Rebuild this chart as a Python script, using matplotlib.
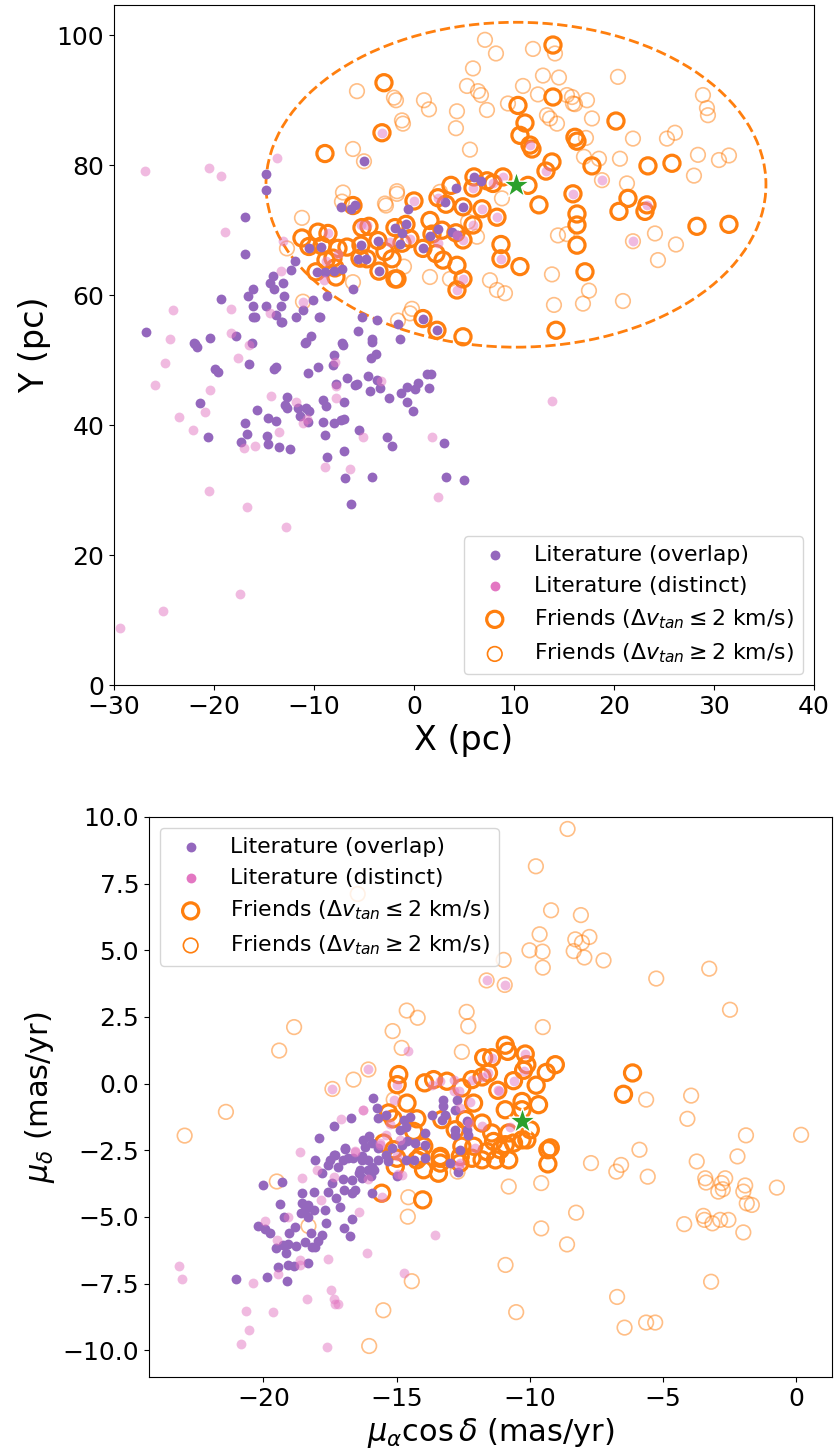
import matplotlib
matplotlib.use("Agg")
import matplotlib.pyplot as plt
from matplotlib.patches import Ellipse

# ---------------- top panel: X / Y positions (pc) ----------------
lit_overlap_x = [-14.8, -14.8, -16.9, -16.9, -11.9, -12.3, -14.1, -14.4, -13.1, -14.0, -16.1, -16.6, -13.0,
                 -19.3, -16.1, -14.8, -13.3, -10.1, -8.7, -11.1, -11.8, -9.4, -16.1, -13.8, -13.3, -26.8,
                 -20.4, -17.8, -22.0, -16.2, -10.3, -10.8, -7.3, -6.3, -5.9, -10.5, -9.3, -9.7, -8.9, -8.0,
                 -7.2, -6.1, -5.3, -5.6, -4.8, -3.6, -3.5, -1.9, -1.2, -1.4, -5.2, -3.7, -5.6, -4.2, -1.6,
                 -9.5, -13.2, -15.9, -5.0, 6.0, 6.7, 4.2, 3.1, 4.9, -0.6, -0.8, 1.6, 2.4, 0.9, 3.8, 4.3,
                 0.9, 2.3, -1.4, -7.2, -21.9, -21.7, -19.9, -19.6, -16.5, -21.4, -20.6, -14.0, -13.8,
                 -10.9, -10.6, -9.6, -8.0, -8.1, -7.1, -4.2, -4.3, -3.8, -15.7, -14.6, -13.8, -16.9,
                 -16.7, -17.3, -14.7, -14.6, -13.5, -12.4, -12.7, -12.9, -12.7, -11.6, -10.8, -10.5,
                 -11.4, -10.6, -9.1, -8.8, -9.1, -8.9, -8.7, -8.0, -7.3, -7.0, -7.0, -7.8, -6.7, -5.9,
                 -5.7, -7.0, -6.9, -6.3, -5.5, -4.6, -4.4, -3.7, -3.4, -2.5, -4.2, -2.7, -2.2, -1.3,
                 -0.7, -0.7, -0.1, 0.1, 0.4, 1.3, 1.7, 1.5, 3.0, 3.2, 5.0]
lit_overlap_y = [78.6, 76.2, 72.1, 66.4, 65.3, 63.8, 63.0, 61.9, 61.8, 60.9, 61.0, 59.9, 59.9,
                 59.4, 58.4, 58.4, 58.3, 59.3, 59.8, 57.7, 56.6, 56.6, 56.6, 57.0, 55.8, 54.3,
                 53.4, 53.7, 52.6, 52.6, 53.7, 52.8, 73.6, 73.3, 73.9, 67.3, 67.4, 63.6, 63.5, 63.7,
                 64.1, 60.9, 67.7, 65.6, 65.6, 68.4, 63.7, 70.4, 69.5, 67.9, 56.7, 56.2, 54.5, 53.2, 55.6,
                 56.7, 55.9, 56.7, 80.6, 78.2, 77.5, 76.5, 74.4, 73.6, 73.2, 70.9, 69.1, 70.2, 67.2, 69.7, 69.3,
                 56.4, 54.6, 53.3, 52.6, 52.5, 52.0, 48.7, 48.2, 49.4, 43.4, 38.2, 48.6, 48.9,
                 52.6, 48.1, 49.0, 50.8, 49.2, 52.4, 52.8, 50.3, 50.9, 42.3, 41.1, 40.6, 40.3,
                 38.6, 37.4, 38.3, 37.1, 36.7, 36.4, 44.4, 43.1, 42.6, 42.6, 42.6, 42.2,
                 41.4, 40.5, 43.9, 42.9, 40.5, 38.5, 35.1, 40.3, 40.8, 41.0, 43.5, 46.3, 47.2, 46.2,
                 46.4, 36.0, 31.9, 27.8, 39.2, 47.5, 45.3, 47.0, 45.7, 44.2, 32.0, 38.2, 36.8, 44.9,
                 45.9, 43.6, 42.2, 45.6, 46.5, 47.8, 47.8, 45.7, 37.2, 32.0, 31.5]

lit_distinct_x = [-26.9, -20.5, -19.3, -13.7, -18.9, -13.1, -13.3, -18.3, -11.1, -14.4, -24.1, -24.4,
                  -18.3, -16.5, -8.6, -7.6, -8.8, -9.0, -5.3, -4.7, -2.4, -3.2, 11.6, 13.2, 8.9, 7.9,
                  5.9, 2.4, 6.8, 8.3, 5.9, 0.0, -0.4, 2.4, 4.3, 4.9, 4.9, 4.3, 8.7, 15.9, 18.8, 23.3,
                  21.9, -24.9, -25.9, -17.6, -20.4, -20.9, -23.5, -22.1, -20.5, -16.7, -12.8, -17.4,
                  -25.1, -29.4, -14.3, -17.0, -15.9, -13.5, -11.8, -11.1, -10.7, -8.9, -7.9, -7.8,
                  -7.8, -6.4, -5.1, -3.3, 1.8, 2.4, 13.8]
lit_distinct_y = [79.1, 79.6, 78.3, 81.1, 69.8, 68.4, 63.7, 57.9, 59.0, 57.2, 57.7, 53.2,
                  54.2, 52.3, 69.6, 66.4, 65.3, 62.3, 70.8, 70.8, 68.2, 85.0, 83.1, 79.1, 78.2, 77.2,
                  76.5, 75.0, 73.3, 72.0, 70.8, 74.5, 68.7, 68.0, 69.3, 68.5, 62.5, 60.8, 65.6, 75.6, 77.7, 73.9,
                  68.3, 49.5, 46.2, 50.3, 45.4, 42.0, 41.2, 39.2, 29.8, 27.4, 24.4, 14.0,
                  11.4, 8.8, 44.5, 36.5, 36.8, 38.9, 43.6, 40.4, 41.0, 33.5, 49.7, 46.1,
                  44.1, 33.3, 38.1, 46.8, 38.1, 28.9, 43.7]

friends_close_x = [-8.9, -6.1, -11.2, -9.6, -8.6, -10.5, -9.2, -7.6, -6.7, -8.8, -8.1, -9.8, -7.8, -7.9,
                   -5.2, -4.5, -5.3, -5.4, -4.7, -3.6, -3.5, -1.7, -2.2, -2.9, -1.9, -1.2, -0.8, 0.0,
                   -0.4, 1.6, 1.8, 2.8, 0.9, 2.2, 2.9, 4.3, 4.9, 4.2, 4.9, 4.3, -1.9, -3.0, -3.2, 13.9,
                   13.9, 10.4, 11.1, 10.6, 11.6, 11.8, 16.1, 16.3, 13.8, 13.2, 12.5, 11.4, 8.9, 7.9,
                   6.0, 7.3, 5.9, 3.7, 2.4, 3.2, 4.9, 6.8, 8.3, 5.9, 8.7, 8.7, 10.6, 14.2, 15.9, 16.3,
                   16.3, 16.3, 4.9, 0.9, 2.3, 20.2, 17.8, 23.4, 25.8, 21.4, 20.5, 23.3, 23.1, 28.3,
                   31.5, 17.1]
friends_close_y = [81.8, 73.8, 68.8, 69.7, 69.5, 67.5, 67.6, 67.2, 67.4, 65.4, 65.7, 63.6, 62.8, 64.2,
                   70.4, 70.6, 67.7, 65.7, 65.6, 68.4, 63.7, 62.5, 65.6, 66.7, 70.4, 68.0, 70.9, 74.5,
                   68.7, 71.5, 69.4, 70.0, 67.2, 66.4, 65.4, 64.6, 68.5, 69.6, 62.5, 60.8, 62.5, 92.7, 85.0, 90.5,
                   98.5, 89.2, 86.5, 84.6, 83.1, 82.5, 84.3, 83.7, 80.5, 79.1, 73.9, 76.9, 78.2, 77.2,
                   78.2, 77.6, 76.5, 76.9, 75.0, 74.0, 73.6, 73.3, 72.0, 70.8, 67.8, 65.6, 64.4, 54.6, 75.6, 72.5,
                   70.8, 67.7, 53.6, 56.4, 54.6, 86.8, 79.9, 79.9, 80.3, 74.9, 72.9, 73.9, 72.9, 70.6,
                   70.9, 63.6]

friends_far_x = [-12.7, -11.2, -7.2, -2.9, -1.7, -6.1, -1.6, 7.1, 8.2, 5.9, 5.3, 6.4, 6.7, 9.4, 7.3, 4.3,
                 4.2, 5.6, -5.7, -2.0, -1.8, 1.0, 1.5, -1.2, -1.1, -6.1, -5.0, 11.9, 12.9, 14.5, 10.9,
                 12.4, 15.3, 15.9, 13.3, 13.6, 14.3, 14.1, 2.6, -1.7, -2.8, -7.1, 1.6, 3.6, -1.0, 7.6,
                 8.3, 9.1, 13.8, 14.0, 14.4, 15.3, 16.9, -0.4, 8.8, 6.3, 5.4, -0.2, 20.4, 28.9, 29.3,
                 29.4, 15.8, 16.1, 17.3, 17.8, 17.2, 21.9, 25.3, 26.1, 28.4, 30.5, 31.5, 17.0, 18.5,
                 20.6, 28.0, 18.8, 21.3, 24.1, 26.2, 21.9, 24.4, 17.5, 20.9, -11.1]
friends_far_y = [67.2, 71.9, 74.4, 74.1, 75.6, 62.0, 56.1, 99.3, 97.2, 94.9, 92.2, 91.4, 90.8, 89.5, 88.5, 88.3,
                 85.7, 82.4, 91.4, 90.4, 90.0, 90.0, 88.6, 86.9, 86.4, 82.5, 80.6, 97.9, 93.8, 93.5, 92.2,
                 90.9, 90.8, 89.5, 87.7, 87.2, 86.4, 97.2, 75.9, 76.0, 73.8, 75.8, 62.8, 62.5, 64.4, 62.3,
                 60.8, 60.3, 63.2, 58.5, 69.2, 69.4, 58.7, 57.2, 74.9, 69.0, 71.3, 57.9, 93.6, 90.8, 88.8,
                 87.7, 90.5, 89.4, 90.0, 87.2, 84.2, 84.1, 84.1, 85.0, 81.6, 80.8, 81.5, 81.3, 81.0,
                 81.0, 78.4, 77.7, 77.2, 69.5, 67.8, 68.3, 65.4, 60.7, 59.1, 59.0]

target_xy = (10.2, 77.0)
search_radius = 25.0

# ---------------- bottom panel: proper motions (mas/yr) ----------------
lit_overlap_pmra = [-21.04, -19.88, -19.13, -19.46, -19.06, -18.87, -18.34, -20.19, -19.94, -19.75, -19.53,
                    -19.25, -19.09, -19.16, -18.79, -18.44, -18.19, -18.06, -17.96, -17.81, -19.03, -18.81,
                    -18.21, -19.37, -19.22, -20.00, -19.31, -18.54, -18.56, -18.31, -18.44, -18.12, -18.59,
                    -18.31, -18.09, -17.69, -17.67, -17.56, -17.29, -17.13, -16.96, -16.75, -16.66, -18.06,
                    -17.81, -17.56, -17.50, -17.31, -17.19, -16.94, -16.81, -16.62, -17.44, -17.00, -16.96,
                    -16.69, -16.56, -16.66, -16.41, -16.31, -16.09, -15.94, -15.91, -16.31, -16.06, -15.71,
                    -16.25, -16.03, -15.94, -15.69, -17.91, -17.34, -16.72, -15.90, -15.73, -15.00, -15.70,
                    -15.39, -14.74, -14.48, -14.86, -14.63, -16.17, -15.17, -14.80, -14.61, -14.30, -14.36,
                    -14.63, -15.39, -15.33, -17.37, -16.92, -16.30, -17.00, -15.86, -16.36, -15.98, -13.92,
                    -13.92, -12.36, -12.98, -12.61, -12.80, -12.80, -12.36, -12.32, -13.68, -13.30, -13.17,
                    -13.24, -13.24, -12.73, -12.80, -13.92, -12.68]
lit_overlap_pmdec = [-7.34, -7.27, -7.40, -6.87, -6.80, -6.84, -6.72, -5.34, -5.47, -5.59, -6.18,
                     -6.05, -6.02, -6.37, -6.09, -5.93, -6.12, -6.12, -5.89, -5.68, -5.62, -5.36,
                     -5.59, -4.51, -5.01, -3.82, -3.70, -4.11, -4.49, -4.55, -4.74, -4.74, -4.86,
                     -4.99, -4.05, -4.74, -5.24, -4.05, -4.30, -4.61, -5.43, -5.70, -5.09, -2.86,
                     -3.36, -3.05, -2.86, -2.67, -3.11, -2.46, -2.80, -2.80, -3.71, -3.58, -3.98,
                     -4.11, -3.98, -3.61, -3.36, -3.55, -3.23, -3.11, -4.09, -2.86, -2.86, -2.86,
                     -2.11, -1.98, -2.23, -2.41, -2.04, -1.58, -1.29, -0.54, -0.92, -3.46, -1.29,
                     -1.17, -1.35, -1.25, -1.73, -1.63, -2.38, -2.41, -2.29, -2.16, -2.23, -2.86,
                     -2.86, -2.67, -2.92, -2.67, -2.41, -2.73, -2.86, -3.23, -3.23, -3.48, -1.85,
                     -2.29, -1.42, -2.98, -2.48, -1.73, -1.92, -1.73, -1.92, -1.17, -1.35, -1.17,
                     -0.60, -0.85, -0.60, -0.98, -2.80, -3.30]

lit_distinct_pmra = [-11.62, -10.94, -14.59, -16.06, -17.41, -10.17, -10.23, -11.43, -11.55, -10.61, -11.17,
                     -23.16, -23.07, -20.40, -20.66, -20.54, -20.86, -19.65, -19.46, -18.62, -18.62, -17.59,
                     -17.46, -17.37, -17.31, -17.19, -18.36, -17.60, -16.10, -14.71, -13.56, -19.96, -19.50,
                     -19.06, -18.56, -17.83, -16.41, -18.00, -17.34, -16.09, -16.56, -15.63, -18.62, -17.09,
                     -16.25, -15.56, -14.98, -15.11, -16.26, -15.26, -15.61, -15.38, -14.89, -14.98, -14.80,
                     -16.55, -12.62, -12.17, -11.79, -11.20, -10.73, -11.79, -12.30, -12.05, -12.64, -13.68,
                     -13.36, -12.86, -12.86, -12.67, -12.61, -12.23, -14.95]
lit_distinct_pmdec = [3.87, 3.70, 1.24, 0.53, -0.20, 1.11, 0.49, 0.97, 0.40, 0.11, -0.26,
                      -6.84, -7.33, -7.47, -8.52, -9.25, -9.75, -8.57, -7.14, -6.62, -6.80, -6.59,
                      -7.74, -8.06, -8.25, -8.27, -8.08, -9.88, -6.35, -7.12, -5.66, -5.14, -5.86,
                      -4.99, -3.55, -4.36, -4.80, -3.23, -3.51, -3.58, -2.51, -2.23, -2.55, -1.33,
                      -1.00, -4.26, -0.04, -0.60, -0.98, -1.50, -2.29, -1.92, -2.11, -2.71, -3.42,
                      -2.55, -2.98, 0.15, 0.25, -0.25, -1.61, -1.60, -1.48, -2.41, -3.05, -0.04,
                      0.09, 0.15, -0.29, -0.29, -0.91, -0.70, -3.40]

friends_close_pmra = [-10.92, -10.83, -10.17, -10.11, -10.23, -9.04, -9.38, -11.43, -11.73, -10.61, -9.76,
                      -11.20, -6.14, -6.48, -9.67, -9.32, -9.32, -11.55, -11.79, -12.17, -10.29, -10.29,
                      -10.92, -9.98, -10.11, -10.79, -10.61, -10.92, -11.43, -11.36, -11.11, -10.79, -9.23,
                      -11.79, -12.42, -11.61, -11.79, -12.17, -12.10, -12.55, -12.61, -13.36, -13.36, -14.11,
                      -13.98, -11.29, -10.29, -14.92, -14.98, -13.95, -14.61, -15.30, -15.56, -14.02, -13.43,
                      -13.37, -12.62, -13.61, -13.11, -12.55, -12.11, -15.13, -14.24, -14.36, -15.49, -15.11,
                      -14.99, -15.05, -14.24, -13.99, -13.30, -12.80]
friends_close_pmdec = [1.44, 1.21, 1.11, 0.71, 0.50, 0.71, 0.42, 0.97, 0.97, 0.11, -0.06,
                       -0.25, 0.40, -0.40, -0.79, -2.48, -3.01, 0.40, 0.25, 0.15, -0.67, -0.98,
                       -0.98, -1.73, -2.11, -1.85, -2.23, -2.29, -1.85, -2.17, -2.48, -2.86, -2.41,
                       -1.48, -1.35, -2.55, -2.86, -2.80, -2.35, -2.35, -2.73, -2.73, -2.98, -2.73,
                       -2.35, -2.86, -2.11, 0.34, -0.04, 0.03, -0.73, -1.10, -4.11, -4.36, -3.36,
                       -2.80, -2.98, 0.15, 0.09, -0.16, -0.73, -1.32, -1.32, -1.79, -2.23, -2.48,
                       -2.80, -3.11, -2.86, -3.23, -1.35, -1.73]

friends_far_pmra = [-16.46, -11.62, -14.62, -14.21, -12.37, -12.31, -18.85, -15.15, -19.41, -14.81, -12.55,
                    -16.06, -16.62, -17.41, -8.58, -9.77, -9.20, -8.08, -9.63, -10.01, -9.52, -8.29, -8.04,
                    -7.76, -8.35, -7.95, -7.23, -10.98, -9.51, -10.94, -5.25, -3.26, -2.48, -9.51, -5.63,
                    -3.94, -10.79, -9.57, -7.70, -6.75, -6.57, -5.88, -5.57, -4.08, -3.73, -1.88, 0.19,
                    -2.20, -3.41, -3.38, -2.66, -2.79, -2.75, -2.92, -1.91, -1.98, -1.85, -1.66, -0.72,
                    -4.20, -3.48, -3.44, -3.14, -2.85, -2.54, -1.98, -8.26, -9.57, -8.60, -10.91, -3.19,
                    -10.51, -6.72, -5.63, -5.29, -6.44, -21.41, -22.96, -15.50, -16.03, -14.43, -14.56,
                    -14.58, -19.50, -18.31, -12.71, -15.11]
friends_far_pmdec = [7.11, 3.87, 2.74, 2.47, 2.69, 2.15, 2.12, 1.97, 1.24, 1.34, 1.19,
                     0.53, 0.15, -0.20, 9.55, 8.15, 6.50, 6.32, 5.60, 5.00, 4.95, 5.41, 5.29,
                     5.50, 4.97, 4.73, 4.62, 4.64, 4.35, 3.70, 3.94, 4.31, 2.77, 2.12, -0.60,
                     -0.45, -3.86, -3.73, -2.98, -3.30, -3.05, -2.48, -3.49, -1.32, -2.92, -1.94, -1.92,
                     -2.73, -3.55, -3.71, -3.55, -3.73, -3.96, -4.05, -3.82, -4.05, -4.49, -4.55, -3.90,
                     -5.27, -4.96, -5.11, -5.24, -5.11, -5.11, -5.58, -4.84, -5.43, -6.03, -6.80, -7.43,
                     -8.57, -8.00, -8.96, -8.96, -9.15, -1.06, -1.95, -8.50, -9.84, -7.41, -4.26,
                     -4.99, -3.67, -5.34, -3.30, -0.60]

target_pm = (-10.28, -1.40)

labels = ["Literature (overlap)", "Literature (distinct)",
          r"Friends ($\Delta v_{tan} \leq 2$ km/s)", r"Friends ($\Delta v_{tan} \geq 2$ km/s)"]


def draw(ax, fx_far, fy_far, fx_close, fy_close, ox, oy, dx, dy, star):
    ax.scatter(fx_far, fy_far, s=110, facecolor="none", edgecolor="tab:orange", lw=1.2, alpha=0.5,
               label=labels[3], zorder=2)
    ax.scatter(fx_close, fy_close, s=135, facecolor="none", edgecolor="tab:orange", lw=2.3,
               label=labels[2], zorder=3)
    ax.scatter(ox, oy, s=50, color="tab:purple", lw=0, label=labels[0], zorder=4)
    ax.scatter(dx, dy, s=50, color="tab:pink", lw=0, alpha=0.5, label=labels[1], zorder=4)
    ax.scatter(*star, marker="*", s=400, color="tab:green", edgecolor="white", lw=1, zorder=6)


fig = plt.figure(figsize=(8.35, 14.56), dpi=100)

ax1 = fig.add_axes([0.1365, 0.5295, 0.8383, 0.4668])
draw(ax1, friends_far_x, friends_far_y, friends_close_x, friends_close_y,
     lit_overlap_x, lit_overlap_y, lit_distinct_x, lit_distinct_y, target_xy)
ax1.add_patch(Ellipse(target_xy, 2 * search_radius, 2 * search_radius, fill=False,
                      ls="--", color="tab:orange", lw=2, zorder=1))
ax1.set_xlim(-30, 40)
ax1.set_ylim(0, 104.6)
ax1.set_xlabel("X (pc)", fontsize=24)
ax1.set_ylabel("Y (pc)", fontsize=24)
ax1.tick_params(labelsize=18)

ax2 = fig.add_axes([0.1784, 0.0543, 0.818, 0.3846])
draw(ax2, friends_far_pmra, friends_far_pmdec, friends_close_pmra, friends_close_pmdec,
     lit_overlap_pmra, lit_overlap_pmdec, lit_distinct_pmra, lit_distinct_pmdec, target_pm)
ax2.set_xlim(-24.3, 1.35)
ax2.set_ylim(-11, 10)
ax2.set_yticks([-10, -7.5, -5, -2.5, 0, 2.5, 5, 7.5, 10])
ax2.set_xlabel(r"$\mu_\alpha \cos\delta$ (mas/yr)", fontsize=22)
ax2.set_ylabel(r"$\mu_\delta$ (mas/yr)", fontsize=22)
ax2.tick_params(labelsize=18)

for ax, loc in [(ax1, "lower right"), (ax2, "upper left")]:
    h, l = ax.get_legend_handles_labels()
    order = [l.index(t) for t in labels]
    leg = ax.legend([h[i] for i in order], [l[i] for i in order], loc=loc, fontsize=15.8)
    for lh in leg.legend_handles:
        lh.set_alpha(1)

fig.savefig("out.png", dpi=100)
